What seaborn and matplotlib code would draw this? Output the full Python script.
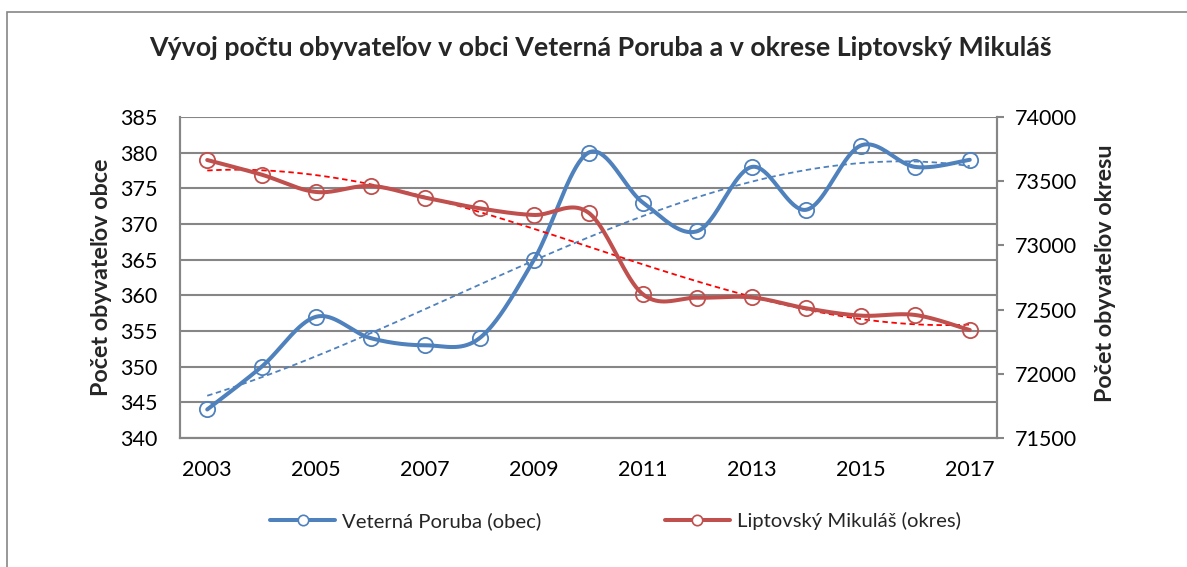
import numpy as np
import pandas as pd
import matplotlib
matplotlib.use('Agg')
import matplotlib.pyplot as plt
import seaborn as sns
from matplotlib.lines import Line2D
from matplotlib.patches import Rectangle

# data
years = list(range(2003, 2018))
obec = [344, 350, 357, 354, 353, 354, 365, 380, 373, 369, 378, 372, 381, 378, 379]
okres = [73665, 73551, 73416, 73463, 73372, 73289, 73237, 73255,
         72619, 72593, 72595, 72510, 72453, 72458, 72341]
xticks = list(range(2003, 2018, 2))
left_ticks = list(range(340, 386, 5))
right_ticks = list(range(71500, 74001, 500))

title = 'Vývoj počtu obyvateľov v obci Veterná Poruba a v okrese Liptovský Mikuláš'
label_obec = 'Veterná Poruba (obec)'
label_okres = 'Liptovský Mikuláš (okres)'

BLUE = '#4F81BD'
RED = '#C0504D'
GRID = '#868686'


def smooth_line(x, y, n=40):
    '''Excel style smoothed line: Bezier segments with Catmull-Rom control points'''
    pts = np.column_stack([x, y]).astype(float)
    pad = np.vstack([pts[0], pts, pts[-1]])
    t = np.linspace(0, 1, n)[:, None]
    out = []
    for i in range(len(pts) - 1):
        p0, p3 = pad[i + 1], pad[i + 2]
        c1 = p0 + (pad[i + 2] - pad[i]) / 6
        c2 = p3 - (pad[i + 3] - pad[i + 1]) / 6
        seg = ((1 - t) ** 3) * p0 + 3 * ((1 - t) ** 2) * t * c1 + 3 * (1 - t) * t ** 2 * c2 + t ** 3 * p3
        out.append(seg if i == 0 else seg[1:])
    out = np.vstack(out)
    return out[:, 0], out[:, 1]


sns.set_style('white')
plt.rcParams['font.family'] = ['Lato', 'DejaVu Sans']

fig = plt.figure(figsize=(11.87, 5.67), dpi=100)
ax = fig.add_axes([180 / 1187, 1 - 438 / 567, 817 / 1187, 321 / 567])
ax2 = ax.twinx()

# outer chart border (runs off the image at right and bottom)
fig.patches.append(Rectangle((7 / 1187, -0.1), 1.2, 1.1 - 12 / 567, transform=fig.transFigure,
                             fill=False, edgecolor=GRID, linewidth=1.2, zorder=0))

# obec on primary axis
sx, sy = smooth_line(years, obec)
sns.regplot(x=years, y=obec, order=3, ci=None, scatter=False, ax=ax,
            line_kws=dict(color=BLUE, lw=1.3, ls=(0, (3, 2))))
sns.lineplot(x=sx, y=sy, ax=ax, color=BLUE, lw=2.9, sort=False, estimator=None)
sns.lineplot(x=years, y=obec, ax=ax, color=BLUE, marker='o', linestyle='none', markersize=11,
             markerfacecolor='none', markeredgecolor=BLUE, markeredgewidth=1.3)

# okres on secondary axis
rx, ry = smooth_line(years, okres)
sns.regplot(x=years, y=okres, order=3, ci=None, scatter=False, ax=ax2,
            line_kws=dict(color='#FF0000', lw=1.3, ls=(0, (3, 2))))
sns.lineplot(x=rx, y=ry, ax=ax2, color=RED, lw=2.9, sort=False, estimator=None)
sns.lineplot(x=years, y=okres, ax=ax2, color=RED, marker='o', linestyle='none', markersize=11,
             markerfacecolor='none', markeredgecolor=RED, markeredgewidth=1.3)

ax.set_xlim(2002.5, 2017.5)
ax.set_xticks(xticks)
ax.set_ylim(340, 385)
ax.set_yticks(left_ticks)
ax2.set_ylim(71500, 74000)
ax2.set_yticks(right_ticks)

ax.yaxis.grid(True, color=GRID, lw=1.5)
ax.xaxis.grid(False)
ax2.grid(False)
for a in (ax, ax2):
    a.set_xlabel('')
    a.set_ylabel('')
    for side in ['top', 'left', 'right', 'bottom']:
        a.spines[side].set_color(GRID)
        a.spines[side].set_linewidth(1.5)
    a.spines['top'].set_visible(False)

ax.tick_params(axis='both', length=0, labelsize=15.5, pad=16, colors='black')
ax.tick_params(axis='x', pad=16)
ax2.tick_params(axis='y', length=5, width=1.5, color=GRID, labelcolor='black', labelsize=15.5, pad=8)

fig.text(0.506, 1 - 48 / 567, title, ha='center', va='center', fontsize=19.3, fontweight='bold')
fig.text(102 / 1187, 1 - 277 / 567, 'Počet obyvateľov obce', rotation=90, ha='center', va='center',
         fontsize=16.8, fontweight='bold')
fig.text(1105 / 1187, 1 - 273 / 567, 'Počet obyvateľov okresu', rotation=90, ha='center', va='center',
         fontsize=16.8, fontweight='bold')

handles = [Line2D([], [], color=BLUE, lw=2.9, marker='o', markersize=7.5, markerfacecolor='white',
                  markeredgecolor=BLUE, markeredgewidth=1.2),
           Line2D([], [], color=RED, lw=2.9, marker='o', markersize=7.5, markerfacecolor='white',
                  markeredgecolor=RED, markeredgewidth=1.2)]
fig.legend(handles, [label_obec, label_okres], loc='center', bbox_to_anchor=(0.5185, 1 - 521 / 567),
           ncol=2, frameon=False, fontsize=14.6, handlelength=3.2, handletextpad=0.34, columnspacing=6.1)

fig.savefig('out.png', dpi=100)
